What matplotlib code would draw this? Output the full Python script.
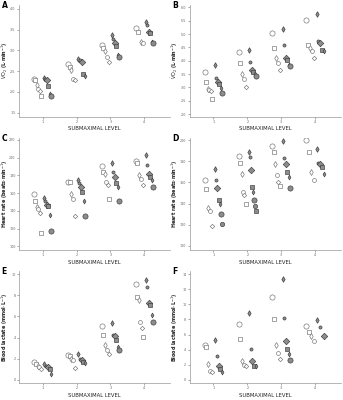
import numpy as np
import matplotlib
matplotlib.use('Agg')
import matplotlib.pyplot as plt

levels = [1, 2, 3, 4]

# panel A - VO2 (L/min)
a_open = [[2.32, 2.28, 2.17, 2.07, 2.01, 1.89],
          [2.68, 2.60, 2.52, 2.30, 2.29],
          [3.13, 3.05, 2.98, 2.84, 2.72],
          [3.53, 3.45, 3.21, 3.17]]
a_fill = [[2.33, 2.30, 2.28, 2.15, 1.95, 1.89],
          [2.80, 2.76, 2.72, 2.44, 2.38],
          [3.37, 3.27, 3.17, 3.11, 2.88, 2.84],
          [3.69, 3.61, 3.45, 3.41, 3.21, 3.17]]

# panel B - VO2 (L/min)
b_open = [[3.57, 3.22, 2.95, 2.90, 2.88, 2.57],
          [4.32, 3.90, 3.51, 3.32, 3.03],
          [5.03, 4.48, 4.09, 3.90, 3.64],
          [5.54, 4.61, 4.48, 4.35, 4.09]]
b_fill = [[3.83, 3.34, 3.19, 3.12, 2.99, 2.80],
          [4.41, 3.96, 3.64, 3.57, 3.51, 3.42],
          [5.19, 4.58, 4.09, 4.03, 3.83, 3.80],
          [5.77, 4.74, 4.67, 4.41, 4.37]]

# panel C - heart rate
c_open = [[159, 151, 144, 142, 138, 115],
          [173, 172, 159, 153, 134],
          [190, 184, 182, 173, 169, 153],
          [196, 194, 180, 176, 169]]
c_fill = [[154, 151, 147, 145, 135, 117],
          [175, 171, 167, 161, 151, 134],
          [194, 184, 178, 171, 167, 151],
          [203, 192, 182, 178, 175, 167]]

# panel D - heart rate
d_open = [[162, 154, 136, 133, 119],
          [185, 178, 168, 151, 148, 140],
          [194, 189, 177, 167, 160, 157],
          [200, 189, 170, 162]]
d_fill = [[173, 162, 155, 143, 140, 130, 121],
          [189, 184, 172, 156, 151, 143, 138, 133],
          [199, 183, 177, 170, 165, 155],
          [192, 178, 177, 175, 168]]

# panel E - blood lactate
e_open = [[1.67, 1.50, 1.35, 1.19, 1.03],
          [2.37, 2.21, 1.99, 1.83, 1.09],
          [5.13, 4.23, 3.27, 2.79, 2.47],
          [9.10, 7.82, 7.60, 5.45, 4.87, 4.07]]
e_fill = [[1.50, 1.35, 1.19, 1.03, 0.54],
          [2.47, 1.99, 1.83, 1.67, 1.60],
          [5.42, 4.29, 4.17, 3.75, 3.11, 2.79],
          [9.42, 8.78, 7.28, 7.12, 6.15, 5.51]]

# panel F - blood lactate
f_open = [[4.57, 4.35, 2.10, 1.21, 1.10],
          [7.35, 5.47, 2.56, 1.97, 1.80],
          [10.94, 8.03, 4.57, 3.59, 2.78],
          [7.17, 6.37, 5.78, 5.11]]
f_fill = [[5.25, 3.14, 1.88, 1.43, 0.99],
          [8.79, 4.13, 2.56, 1.88, 1.80],
          [13.3, 8.16, 5.11, 4.13, 3.45, 2.70],
          [7.94, 7.04, 5.78]]

vo2_lab = r'$\dot{V}\mathrm{O_2}$ (L$\cdot$min$^{-1}$)'
hr_lab = r'Heart rate (beats$\cdot$min$^{-1}$)'
la_lab = r'Blood lactate (mmol$\cdot$L$^{-1}$)'

panels = [
    ('A', a_open, a_fill, vo2_lab, (1.4, 4.1), np.arange(1.5, 4.01, 0.5), '%.1f'),
    ('B', b_open, b_fill, vo2_lab, (1.9, 6.1), np.arange(2.0, 6.01, 0.5), '%.1f'),
    ('C', c_open, c_fill, hr_lab, (96, 222), np.arange(100, 221, 20), '%d'),
    ('D', d_open, d_fill, hr_lab, (96, 202), np.arange(100, 201, 20), '%d'),
    ('E', e_open, e_fill, la_lab, (-0.3, 10.3), np.arange(0, 10.1, 2), '%d'),
    ('F', f_open, f_fill, la_lab, (-0.4, 14.4), np.arange(0, 14.1, 2), '%d'),
]

markers = ['o', 's', 'd', 'o', 'D', 's', 'd', 'o']
sizes = [14, 10, 9, 8, 5, 11, 8, 6]

fig = plt.figure(figsize=(3.43, 4.0), dpi=100)
lefts = [0.055, 0.553]
bottoms = [0.708, 0.375, 0.0425]
w, h = 0.44, 0.28

for i, (letter, op, fl, ylab, ylim, yt, fmt) in enumerate(panels):
    ax = fig.add_axes([lefts[i % 2], bottoms[i // 2], w, h])
    for lv, vals_o, vals_f in zip(levels, op, fl):
        n = len(vals_o)
        xo = lv - 0.26 + np.arange(n) * (0.22 / max(n - 1, 1))
        for k, (x, y) in enumerate(zip(xo, vals_o)):
            ax.scatter(x, y, marker=markers[k % 8], s=sizes[k % 8], facecolor='white',
                       edgecolor='#707070', linewidth=0.45, zorder=3)
        n = len(vals_f)
        xf = lv + 0.04 + np.arange(n) * (0.22 / max(n - 1, 1))
        for k, (x, y) in enumerate(zip(xf, vals_f)):
            ax.scatter(x, y, marker=markers[(k + 2) % 8], s=sizes[(k + 3) % 8],
                       facecolor='#8c8c8c', edgecolor='#3a3a3a', linewidth=0.45, zorder=3)
    ax.set_xlim(0.3, 4.75)
    ax.set_ylim(*ylim)
    ax.set_xticks(levels)
    ax.set_yticks(yt)
    ax.set_yticklabels([fmt % v for v in yt])
    ax.tick_params(labelsize=2.4, length=1.2, width=0.4, colors='#666666', pad=1.2)
    for s in ['top', 'right']:
        ax.spines[s].set_visible(False)
    for s in ['left', 'bottom']:
        ax.spines[s].set_linewidth(0.5)
        ax.spines[s].set_color('#999999')
    ax.set_ylabel(ylab, fontsize=3.5, fontweight='bold', color='#222222')
    ax.yaxis.set_label_coords(-0.062, 0.5)
    ax.set_xlabel('SUBMAXIMAL LEVEL', fontsize=3.8, color='#222222')
    ax.xaxis.set_label_coords(0.5, -0.085)
    fig.text(lefts[i % 2] - 0.05, bottoms[i // 2] + h + 0.01, letter, fontsize=5.5,
             fontweight='bold', ha='left', va='top')

fig.savefig('out.png', dpi=100)
